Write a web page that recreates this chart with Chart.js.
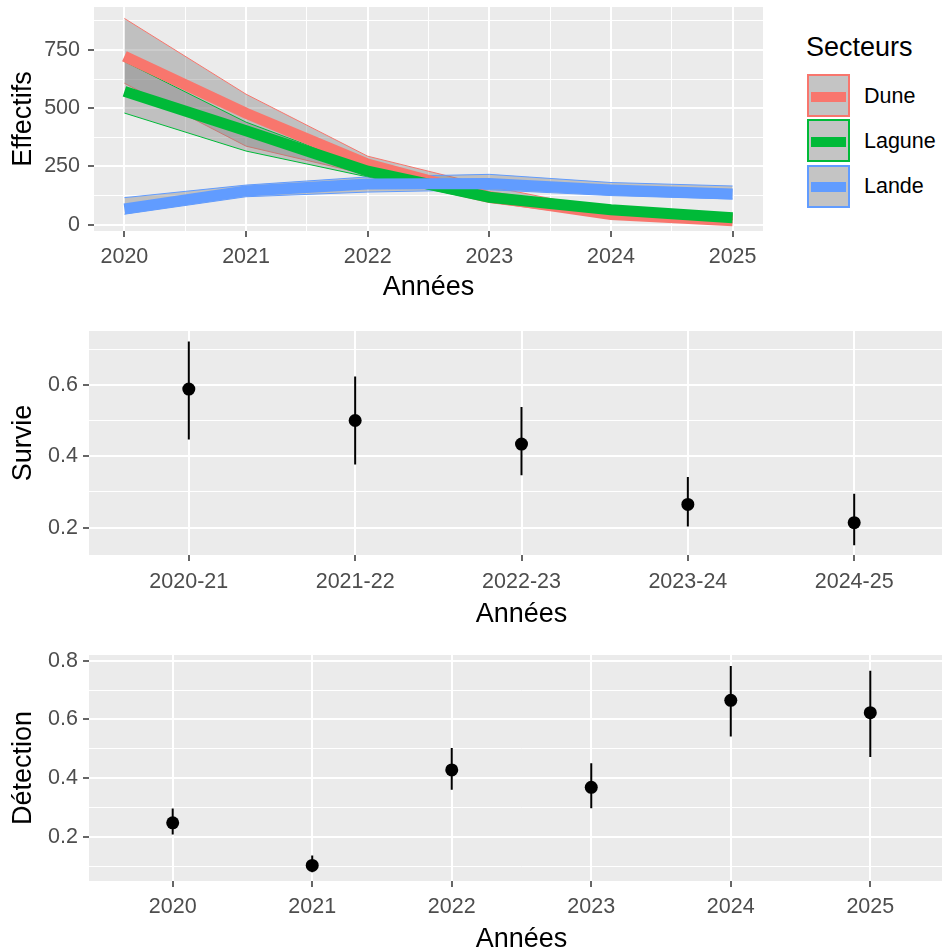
<!DOCTYPE html>
<html>
<head>
<meta charset="utf-8">
<script src="https://cdn.jsdelivr.net/npm/chart.js@4.4.1/dist/chart.umd.min.js"></script>
<style>
html, body { margin: 0; padding: 0; background: #ffffff; overflow: hidden; }
#wrap { position: relative; width: 942px; height: 948px; overflow: hidden; background: #ffffff; }
canvas { position: absolute; display: block; }
.lg { position: absolute; font-family: 'Liberation Sans', Arial, sans-serif; color: #000; white-space: nowrap; }
.key { position: absolute; width: 43px; height: 43px; box-sizing: border-box; background: #c4c4c4; border: 2px solid; }
.key i { position: absolute; left: 2px; right: 2px; top: 15.5px; height: 10px; display: block; }
</style>
</head>
<body>
<div id="wrap">
  <canvas id="c1" width="780" height="340" style="left:0;top:-30px;"></canvas>
  <canvas id="c2" width="960" height="333" style="left:0;top:300px;"></canvas>
  <canvas id="c3" width="960" height="333" style="left:0;top:630px;"></canvas>
  <div id="legend"></div>
</div>
<script>
// ---------------- DATA ----------------
const years = [2020, 2021, 2022, 2023, 2024, 2025];
const sectorNames = ['Dune', 'Lagune', 'Lande'];
const sectorColors = ['#F8766D', '#00BA38', '#619CFF'];

const duneMean   = [723, 478, 260, 120, 44, 17];
const duneUpper  = [885, 560, 294, 165, 60, 26];
const duneLower  = [607, 337, 215, 95, 30, 8];

const laguneMean  = [572, 403, 230, 118, 64, 30];
const laguneUpper = [700, 440, 245, 135, 74, 42];
const laguneLower = [479, 316, 205, 100, 55, 22];

const landeMean  = [68, 145, 175, 177, 149, 132];
const landeUpper = [116, 170, 205, 216, 181, 166];
const landeLower = [45, 120, 140, 150, 125, 110];

const effTicks = [0, 250, 500, 750];
const effMinorTicks = [125, 375, 625, 875];

const survLabels = ['2020-21', '2021-22', '2022-23', '2023-24', '2024-25'];
const survMean = [0.588, 0.500, 0.434, 0.265, 0.214];
const survLow  = [0.447, 0.377, 0.347, 0.203, 0.151];
const survHigh = [0.721, 0.623, 0.538, 0.342, 0.295];
const survTicks = [0.2, 0.4, 0.6];
const survMinorTicks = [0.3, 0.5, 0.7];

const detLabels = ['2020', '2021', '2022', '2023', '2024', '2025'];
const detMean = [0.248, 0.103, 0.428, 0.369, 0.665, 0.623];
const detLow  = [0.208, 0.080, 0.361, 0.298, 0.542, 0.472];
const detHigh = [0.297, 0.137, 0.503, 0.451, 0.782, 0.766];
const detTicks = [0.2, 0.4, 0.6, 0.8];
const detMinorTicks = [0.1, 0.3, 0.5, 0.7];

// ---------------- STYLE ----------------
const FONT = "'Liberation Sans', Arial, sans-serif";
const TICK_FONT = { family: FONT, size: 21.5 };
const TITLE_FONT = { family: FONT, size: 27 };
const TICK_COLOR = '#4d4d4d';
const RIBBON_FILL = 'rgba(127,127,127,0.4)';

Chart.defaults.font.family = FONT;
Chart.defaults.animation = false;

const panelBg = {
  id: 'panelBg',
  beforeDraw(chart) {
    const { ctx, chartArea: a } = chart;
    ctx.save();
    ctx.fillStyle = '#ebebeb';
    ctx.fillRect(a.left, a.top, a.right - a.left, a.bottom - a.top);
    ctx.restore();
  }
};

const has = (arr, v) => arr.some(m => Math.abs(m - v) < 1e-9);

function axis(opts) {
  const isMajor = v => has(opts.major, v);
  const all = opts.major.concat(opts.minor).sort((a, b) => a - b);
  const horizontal = opts.pos === 'bottom';
  return {
    type: 'linear',
    position: opts.pos,
    min: opts.min,
    max: opts.max,
    afterBuildTicks: s => { s.ticks = all.map(v => ({ value: v })); },
    afterFit: s => { if (horizontal) s.height = opts.size; else s.width = opts.size; },
    border: { display: false },
    grid: {
      color: '#ffffff',
      lineWidth: c => (c.tick && isMajor(c.tick.value)) ? 2 : 1,
      tickColor: c => (c.tick && isMajor(c.tick.value)) ? '#333333' : 'rgba(0,0,0,0)',
      tickLength: 6,
      tickWidth: 1.5,
      drawTicks: true,
      drawOnChartArea: true
    },
    ticks: {
      autoSkip: false,
      maxRotation: 0,
      minRotation: 0,
      color: TICK_COLOR,
      font: TICK_FONT,
      padding: opts.tickPad,
      callback: v => isMajor(v) ? opts.label(v) : ''
    },
    title: {
      display: true,
      text: opts.title,
      color: '#000000',
      font: TITLE_FONT,
      padding: opts.titlePad
    }
  };
}

// ---------------- CHART 1 : Effectifs ----------------
const pts = arr => years.map((y, i) => ({ x: y, y: arr[i] }));
const meanSets = [duneMean, laguneMean, landeMean];
const upperSets = [duneUpper, laguneUpper, landeUpper];
const lowerSets = [duneLower, laguneLower, landeLower];

const ds1 = [];
sectorNames.forEach((name, k) => {
  const col = sectorColors[k];
  ds1.push({
    label: name + ' sup', data: pts(upperSets[k]), borderColor: col, borderWidth: 1,
    pointRadius: 0, fill: { target: 2 * k + 1 }, backgroundColor: RIBBON_FILL, order: 20 - 2 * k
  });
  ds1.push({
    label: name + ' inf', data: pts(lowerSets[k]), borderColor: col, borderWidth: 1,
    pointRadius: 0, fill: false, order: 19 - 2 * k
  });
});
sectorNames.forEach((name, k) => {
  ds1.push({
    label: name, data: pts(meanSets[k]), borderColor: sectorColors[k], borderWidth: 11,
    borderCapStyle: 'butt', pointRadius: 0, fill: false, order: 3 - k
  });
});

// canvas placed at page y = -30 ; chart area page y 7..231  -> canvas y 37..261
const C1 = { left: 94, right: 763, top: 37, bottom: 261, w: 780, h: 340 };
new Chart(document.getElementById('c1'), {
  type: 'line',
  data: { datasets: ds1 },
  options: {
    responsive: false,
    animation: false,
    layout: { autoPadding: false, padding: { left: 0, right: C1.w - C1.right, top: C1.top, bottom: 0 } },
    plugins: { legend: { display: false }, tooltip: { enabled: false }, filler: { propagate: false } },
    scales: {
      x: axis({ pos: 'bottom', min: 2019.75, max: 2025.25, major: years, minor: [2020.5, 2021.5, 2022.5, 2023.5, 2024.5],
                label: v => String(v), title: 'Années', size: C1.h - C1.bottom, tickPad: 7, titlePad: { top: 0, bottom: 5.8 } }),
      y: axis({ pos: 'left', min: -27, max: 934, major: effTicks, minor: effMinorTicks,
                label: v => String(v), title: 'Effectifs', size: C1.left, tickPad: 8, titlePad: { top: 7.8, bottom: 0 } })
    }
  },
  plugins: [panelBg]
});

// ---------------- CHARTS 2 & 3 : point + error bars ----------------
function ciChart(id, labels, mean, low, high, major, minor, ymin, ymax, title, geo) {
  const idx = labels.map((_, i) => i + 1);
  const bars = [];
  idx.forEach((x, i) => { bars.push({ x, y: low[i] }, { x, y: high[i] }, { x, y: null }); });
  new Chart(document.getElementById(id), {
    type: 'line',
    data: {
      datasets: [
        { label: title, data: idx.map((x, i) => ({ x, y: mean[i] })), showLine: false,
          pointRadius: 6.5, pointBackgroundColor: '#000', pointBorderColor: '#000', pointBorderWidth: 0, order: 1 },
        { label: title + ' IC', data: bars, borderColor: '#000', borderWidth: 2, pointRadius: 0,
          spanGaps: false, fill: false, order: 2 }
      ]
    },
    options: {
      responsive: false,
      animation: false,
      layout: { autoPadding: false, padding: { left: 0, right: geo.w - geo.right, top: geo.top, bottom: 0 } },
      plugins: { legend: { display: false }, tooltip: { enabled: false } },
      scales: {
        x: axis({ pos: 'bottom', min: 0.4, max: labels.length + 0.6, major: idx, minor: [],
                  label: v => labels[Math.round(v) - 1], title: 'Années', size: geo.h - geo.bottom,
                  tickPad: geo.tickPad, titlePad: { top: 0, bottom: geo.titleBottom } }),
        y: axis({ pos: 'left', min: ymin, max: ymax, major, minor,
                  label: v => v.toFixed(1), title, size: geo.left,
                  tickPad: 5, titlePad: { top: 7.8, bottom: 0 } })
      }
    },
    plugins: [panelBg]
  });
}

ciChart('c2', survLabels, survMean, survLow, survHigh, survTicks, survMinorTicks, 0.1235, 0.7505, 'Survie',
        { left: 89, right: 954, top: 31, bottom: 255, w: 960, h: 333, titleBottom: 1.8, tickPad: 8 });
ciChart('c3', detLabels, detMean, detLow, detHigh, detTicks, detMinorTicks, 0.05, 0.8193, 'Détection',
        { left: 89, right: 954, top: 25, bottom: 251, w: 960, h: 333, titleBottom: 6.8, tickPad: 7 });

// ---------------- LEGEND (HTML, built from the series arrays) ----------------
const lg = document.getElementById('legend');
const t = document.createElement('div');
t.className = 'lg';
t.textContent = 'Secteurs';
t.style.cssText = 'left:806px;top:31px;font-size:27px;line-height:32px;';
lg.appendChild(t);
const keyTops = [74, 119, 164.5];
sectorNames.forEach((name, k) => {
  const key = document.createElement('div');
  key.className = 'key';
  key.style.left = '807px';
  key.style.top = keyTops[k] + 'px';
  key.style.borderColor = sectorColors[k];
  const bar = document.createElement('i');
  bar.style.background = sectorColors[k];
  key.appendChild(bar);
  lg.appendChild(key);
  const lab = document.createElement('div');
  lab.className = 'lg';
  lab.textContent = name;
  lab.style.cssText = 'left:864px;top:' + (keyTops[k] + 21.5 - 13) + 'px;font-size:21.5px;line-height:26px;';
  lg.appendChild(lab);
});
</script>
</body>
</html>
